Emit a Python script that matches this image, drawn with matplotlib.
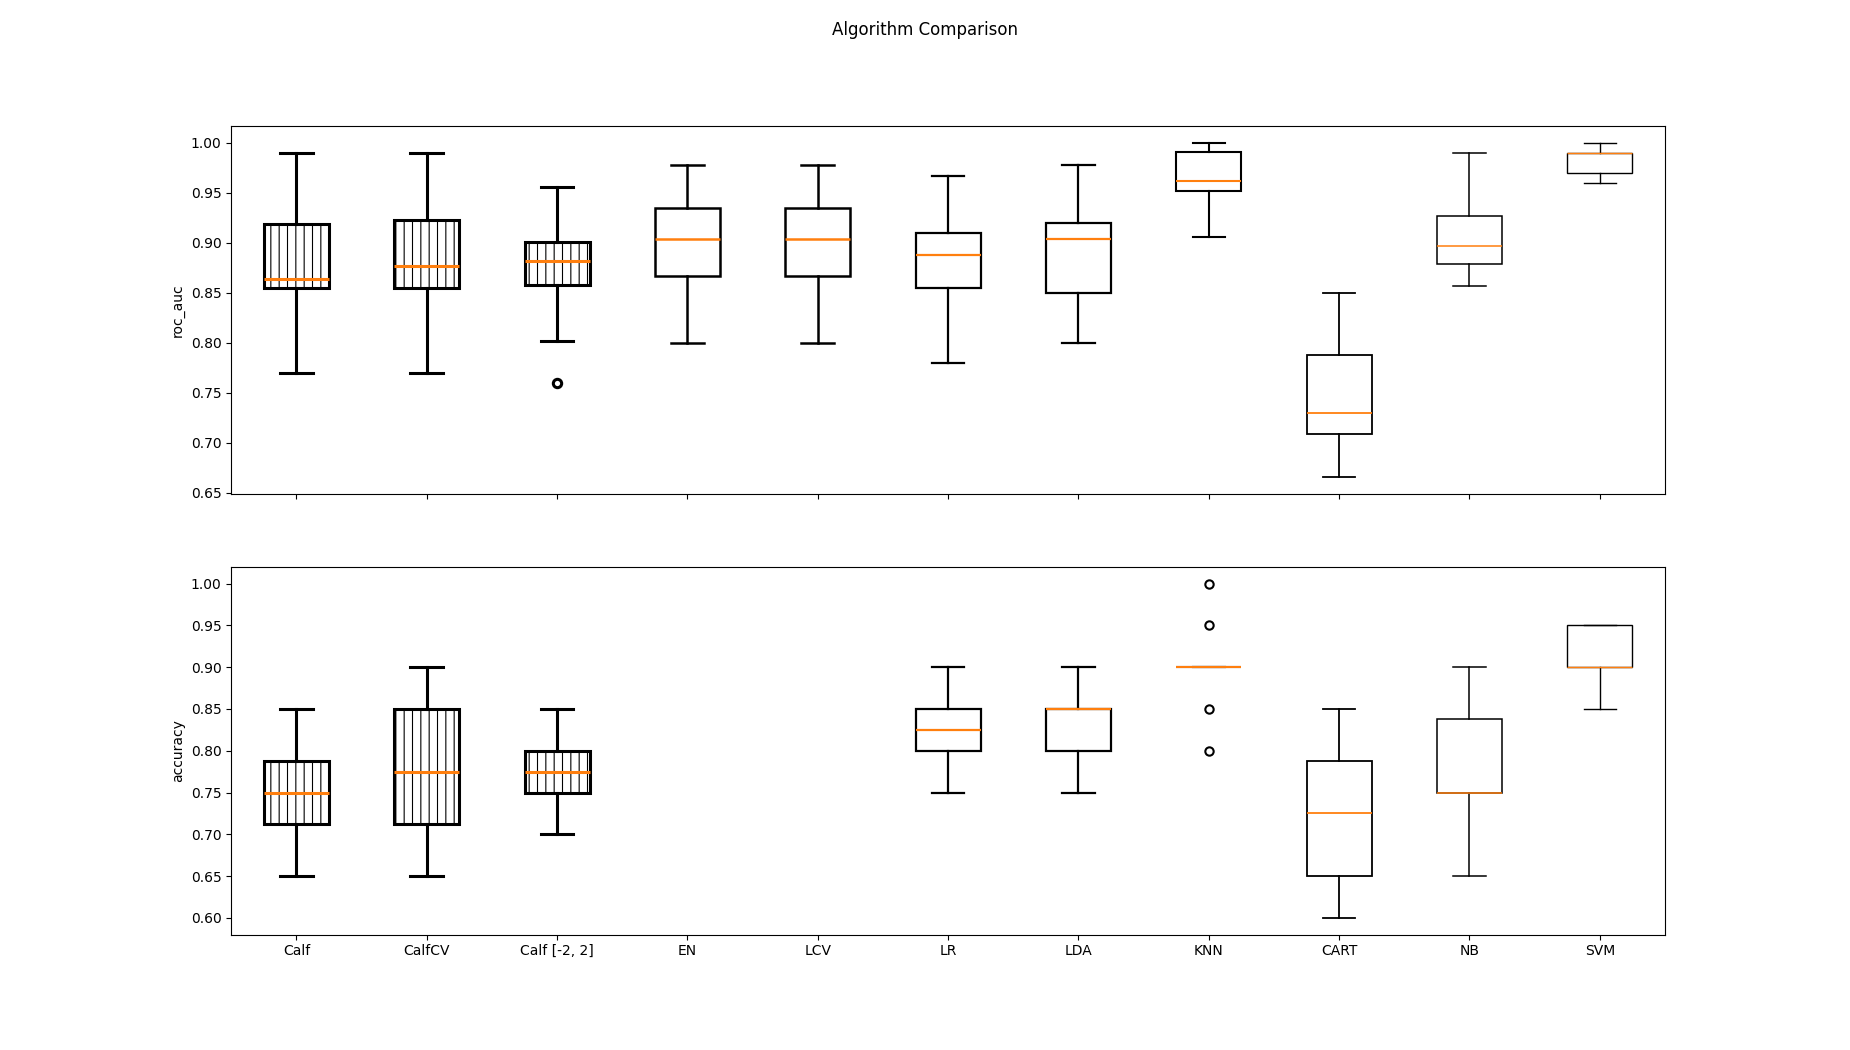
import matplotlib
matplotlib.use("Agg")
import matplotlib.pyplot as plt

models = ["Calf", "CalfCV", "Calf [-2, 2]", "EN", "LCV", "LR", "LDA", "KNN", "CART", "NB", "SVM"]

# roc_auc box statistics
auc_whislo = [0.770, 0.770, 0.802, 0.800, 0.800, 0.780, 0.800, 0.906, 0.666, 0.857, 0.960]
auc_q1     = [0.855, 0.855, 0.858, 0.867, 0.867, 0.855, 0.850, 0.952, 0.709, 0.879, 0.970]
auc_med    = [0.864, 0.877, 0.882, 0.904, 0.904, 0.888, 0.904, 0.962, 0.730, 0.897, 0.990]
auc_q3     = [0.919, 0.923, 0.901, 0.935, 0.935, 0.910, 0.920, 0.991, 0.788, 0.927, 0.990]
auc_whishi = [0.990, 0.990, 0.956, 0.978, 0.978, 0.967, 0.978, 1.000, 0.850, 0.990, 1.000]
auc_fliers = [[], [], [0.760], [], [], [], [], [], [], [], []]

# accuracy box statistics (EN and LCV have no accuracy results)
acc_models = ["Calf", "CalfCV", "Calf [-2, 2]", "LR", "LDA", "KNN", "CART", "NB", "SVM"]
acc_whislo = [0.650, 0.650, 0.700, 0.750, 0.750, 0.900, 0.600, 0.650, 0.850]
acc_q1     = [0.712, 0.712, 0.750, 0.800, 0.800, 0.900, 0.650, 0.750, 0.900]
acc_med    = [0.750, 0.775, 0.775, 0.825, 0.850, 0.900, 0.726, 0.750, 0.900]
acc_q3     = [0.788, 0.850, 0.800, 0.850, 0.850, 0.900, 0.788, 0.838, 0.950]
acc_whishi = [0.850, 0.900, 0.850, 0.900, 0.900, 0.900, 0.850, 0.900, 0.950]
acc_fliers = [[], [], [], [], [], [1.00, 0.95, 0.85, 0.80], [], [], []]

line_w = {"Calf": 2.2, "CalfCV": 2.2, "Calf [-2, 2]": 2.2, "EN": 1.8, "LCV": 1.8,
          "LR": 1.6, "LDA": 1.6, "KNN": 1.5, "CART": 1.3, "NB": 1.1, "SVM": 1.0}
hatched = {"Calf", "CalfCV", "Calf [-2, 2]"}


def make_stats(names, lo, q1, med, q3, hi, fl):
    return [dict(label=n, whislo=a, q1=b, med=c, q3=d, whishi=e, fliers=f)
            for n, a, b, c, d, e, f in zip(names, lo, q1, med, q3, hi, fl)]


def draw(ax, names, stats):
    pos = [models.index(n) + 1 for n in names]
    art = ax.bxp(stats, positions=pos, widths=0.5, patch_artist=True,
                 boxprops=dict(facecolor="white", edgecolor="black"),
                 medianprops=dict(color="#ff7f0e"),
                 flierprops=dict(marker="o", markerfacecolor="none", markeredgecolor="black"))
    for i, n in enumerate(names):
        lw = line_w[n]
        box = art["boxes"][i]
        box.set_linewidth(lw)
        if n in hatched:
            box.set_hatch("||")
        art["medians"][i].set_linewidth(lw)
        art["fliers"][i].set_markeredgewidth(lw)
        for k in (2 * i, 2 * i + 1):
            art["whiskers"][k].set_linewidth(lw)
            art["caps"][k].set_linewidth(lw)


plt.rcParams["hatch.linewidth"] = 0.8
fig, (ax1, ax2) = plt.subplots(2, 1, sharex=True, figsize=(18.5, 10.5), dpi=100)
fig.suptitle("Algorithm Comparison")

draw(ax1, models, make_stats(models, auc_whislo, auc_q1, auc_med, auc_q3, auc_whishi, auc_fliers))
draw(ax2, acc_models, make_stats(acc_models, acc_whislo, acc_q1, acc_med, acc_q3, acc_whishi, acc_fliers))

ax1.set_ylabel("roc_auc")
ax2.set_ylabel("accuracy")
ax2.set_xticks(range(1, len(models) + 1))
ax2.set_xticklabels(models)
ax1.set_xlim(0.5, len(models) + 0.5)
ax1.tick_params(labelbottom=False)

fig.savefig("out.png", dpi=100)
